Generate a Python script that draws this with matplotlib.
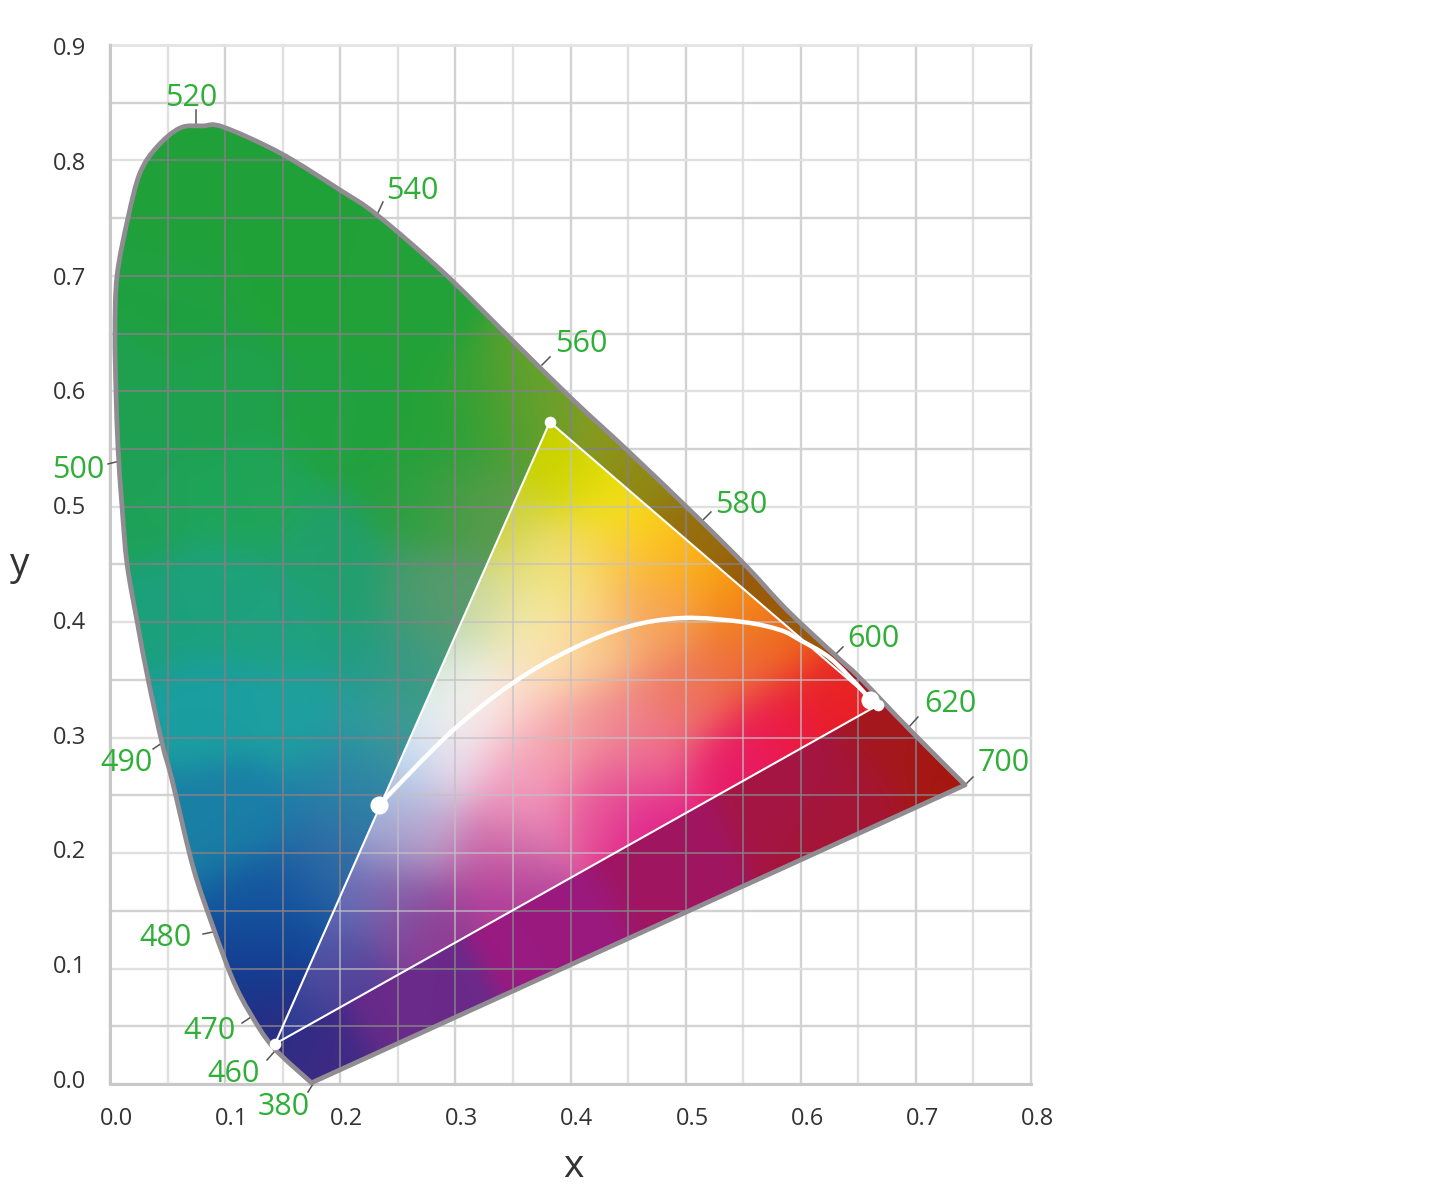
import matplotlib
matplotlib.use('Agg')
import matplotlib.pyplot as plt
from matplotlib.colors import to_rgb
from matplotlib.patches import PathPatch, Polygon
from matplotlib.path import Path
import numpy as np

plt.rcParams['font.family'] = ['Open Sans', 'DejaVu Sans']

# spectral locus, 380 nm round to 700 nm
locus_x = [.175, .1416, .1216, .1068, .0895, .0721, .0539, .0452, .033, .0235, .0148, .0104,
           .007, .0052, .0043, .0061, .0156, .026, .0408, .0608, .0808, .0982, .1477, .1998,
           .2319, .2892, .3448, .4022, .4491, .5125, .5533, .588, .6297, .6515, .6932, .7427]
locus_y = [.001, .032, .0615, .09, .136, .188, .2633, .2954, .351, .401, .4505, .5007,
           .55, .6, .65, .7, .75, .789, .8117, .8281, .8299, .829, .8065, .7744,
           .7528, .7034, .6488, .5925, .5492, .4886, .4479, .4106, .3716, .3517, .3084, .259]

# gamut triangle corners: red, green, blue
gamut_x = [.6672, .382, .1433]
gamut_y = [.3283, .5734, .0347]

# curve between the two larger dots
curve_x = [.2337, .2953, .35, .3996, .4491, .4977, .5498, .582, .5993, .6254, .6515, .6602]
curve_y = [.2417, .304, .3474, .376, .3959, .4037, .4002, .3933, .3846, .369, .343, .3327]
big_x = [.2337, .6602]
big_y = [.2417, .3327]

wave_labels = ['520', '540', '560', '580', '600', '620', '700', '500', '490', '480', '470', '460', '380']
label_x = [.0704, .2622, .4091, .5481, .6627, .7296, .7766, -.0278, .0139, .0486, .086, .1077, .1512]
label_y = [.8567, .7761, .6435, .5044, .3881, .3318, .2807, .5345, .2807, .1291, .0485, .0113, -.0173]
tick_x0 = [.0747, .2371, .3822, .522, .6367, .7018, .7496, -.0017, .0374, .0808, .1147, .1364, .172]
tick_y0 = [.8437, .764, .6298, .4955, .3786, .3179, .2659, .5371, .2902, .1299, .0528, .0208, -.0069]
tick_x1 = [.0747, .2319, .3752, .5142, .6297, .6932, .7427, .0087, .0452, .0895, .1225, .1433, .1763]
tick_y1 = [.8316, .7528, .6228, .4877, .3716, .3084, .259, .5397, .2954, .1317, .058, .0286, 0]

x_ticks = [0, .1, .2, .3, .4, .5, .6, .7, .8]
y_ticks = [0, .1, .2, .3, .4, .5, .6, .7, .8, .9]

# colours sampled outside the triangle
outer_colors = [
    (.078, .766, '#21a038'), (.252, .679, '#21a238'), (.295, .567, '#21a238'), (.269, .636, '#21a238'),
    (.15, .7, '#21a238'), (.06, .68, '#20a040'), (.2, .58, '#21a140'), (.1, .6, '#1fa04c'),
    (.313, .593, '#2aa235'), (.009, .593, '#1fa050'), (.122, .506, '#1fa558'), (.02, .5, '#1ea258'),
    (.191, .454, '#21a068'), (.165, .402, '#1fa184'), (.035, .402, '#1ba07c'), (.1, .42, '#1da27c'),
    (.078, .324, '#1a9ea0'), (.165, .315, '#1ea0a0'), (.122, .229, '#1a7fa8'), (.08, .22, '#1a80a4'),
    (.122, .159, '#14579f'), (.165, .159, '#124f9e'), (.13, .107, '#143d92'), (.139, .047, '#232f84'),
    (.324, .564, '#38a034'), (.367, .564, '#63a02c'), (.269, .564, '#21a238'),
    (.267, .506, '#22a040'), (.295, .506, '#4f9c45'), (.333, .506, '#5f9a50'),
    (.208, .419, '#1f9f70'), (.267, .419, '#4a9a70'), (.295, .419, '#5f9a6a'),
    (.237, .361, '#1c9c88'), (.267, .361, '#4a9a80'),
    (.223, .304, '#229ea0'), (.246, .304, '#4e9a90'),
    (.208, .261, '#1c82a8'), (.232, .261, '#3f87a6'), (.215, .235, '#2e7aa5'),
    (.185, .191, '#2a6aa5'), (.208, .194, '#3a6ea5'),
    (.339, .593, '#5a9e30'), (.365, .601, '#6ea32b'), (.417, .567, '#8c9a1f'), (.46, .532, '#8f8a14'),
    (.512, .48, '#976e0e'), (.565, .432, '#9a5a0a'), (.174, .021, '#3e2a85'),
    (.252, .073, '#6a2a8a'), (.382, .151, '#9a1a80'), (.469, .203, '#a01560'), (.599, .263, '#a51545'),
    (.686, .307, '#a5181c'), (.73, .263, '#a5180f'), (.643, .237, '#a51535'),
]

# colours sampled inside the triangle
inner_colors = [
    (.378, .567, '#c8d000'), (.391, .532, '#c6d400'), (.426, .523, '#e6dc05'), (.443, .489, '#f8e81e'),
    (.478, .48, '#fcc810'), (.512, .454, '#fbac12'), (.547, .419, '#f48a12'), (.591, .385, '#ee6a18'),
    (.643, .341, '#e82a20'), (.656, .331, '#e81c24'), (.339, .489, '#c8d040'), (.374, .454, '#e6dc70'),
    (.391, .428, '#f5ee90'), (.321, .419, '#c6d59a'), (.356, .393, '#f8eeb0'), (.295, .385, '#b8d8b0'),
    (.278, .35, '#cfe5d8'), (.313, .341, '#ffffff'), (.269, .315, '#d8f0f8'), (.252, .281, '#b5dcf5'),
    (.243, .255, '#b0c8e8'), (.235, .22, '#8da0d0'), (.208, .159, '#6070b8'), (.182, .107, '#4a5aa8'),
    (.156, .055, '#2a3a90'), (.304, .315, '#fbeef0'), (.295, .281, '#eed8e8'), (.269, .22, '#c8a0c8'),
    (.252, .159, '#8a5aa5'), (.208, .086, '#5a3a95'), (.278, .125, '#8c3a92'), (.339, .159, '#b03a98'),
    (.356, .281, '#f5a8c0'), (.356, .246, '#f090bc'), (.339, .203, '#cc6aa8'), (.426, .246, '#e85a9a'),
    (.469, .226, '#e0208a'), (.539, .269, '#e81a68'), (.582, .307, '#ec1a50'), (.617, .324, '#e81a30'),
    (.443, .315, '#f09090'), (.495, .333, '#ee7560'), (.547, .367, '#ee7040'), (.478, .402, '#f5a060'),
    (.426, .385, '#f9c080'), (.46, .445, '#fbb04a'), (.417, .454, '#fad46a'), (.391, .376, '#fde0b0'),
    (.347, .333, '#fcd8c8'), (.391, .298, '#f5a0a0'), (.469, .281, '#ee6a98'),
]


def blend_image(anchors, sigma=.028):
    gx, gy = np.meshgrid(np.linspace(0, .8, 400), np.linspace(0, .9, 450))
    px = np.array([a[0] for a in anchors])[:, None, None]
    py = np.array([a[1] for a in anchors])[:, None, None]
    cols = np.array([to_rgb(a[2]) for a in anchors])
    log_w = -((gx - px) ** 2 + (gy - py) ** 2) / (2 * sigma ** 2)
    w = np.exp(log_w - log_w.max(axis=0))
    w /= w.sum(axis=0)
    return np.einsum('kij,kc->ijc', w, cols)


def smooth_path(xs, ys, close=False):
    # runs a spline through the read points so the outline has no corners
    pts = np.column_stack([xs, ys])
    verts = [pts[0]]
    codes = [Path.MOVETO]
    n = len(pts)
    for i in range(n - 1):
        before = pts[max(i - 1, 0)]
        after = pts[min(i + 2, n - 1)]
        verts += [pts[i] + (pts[i + 1] - before) / 6, pts[i + 1] - (after - pts[i]) / 6, pts[i + 1]]
        codes += [Path.CURVE4] * 3
    if close:
        verts.append(pts[0])
        codes.append(Path.CLOSEPOLY)
    return Path(np.array(verts), codes)


fig = plt.figure(figsize=(14.4, 11.97), dpi=100)
ax = fig.add_axes([110 / 1440, 113 / 1197, 921 / 1440, 1039 / 1197])
ax.set_xlim(0, .8)
ax.set_ylim(0, .9)
ax.axis('off')

grid_x = np.arange(0, .81, .05)
grid_y = np.arange(0, .91, .05)

# grid on white
for i, v in enumerate(grid_x):
    ax.plot([v, v], [0, .9], color='#d2d2d2' if i % 2 == 0 else '#e0e0e0', lw=1.7, clip_on=False, zorder=1)
for i, v in enumerate(grid_y[:-1]):
    ax.plot([0, .8], [v, v], color='#d2d2d2' if i % 2 == 1 else '#e0e0e0', lw=1.7, clip_on=False, zorder=1)
ax.plot([0, .8], [.9, .9], color='#e4e4e4', lw=2, clip_on=False, zorder=1)
ax.plot([0, 0, .8], [.9, 0, 0], color='#c8c8c8', lw=2.2, clip_on=False, zorder=1.5)

locus_path = smooth_path(locus_x, locus_y, close=True)
shape = PathPatch(locus_path, fc='none', ec='none')
tri = Polygon(np.column_stack([gamut_x, gamut_y]), closed=True, fc='none', ec='none')
ax.add_patch(shape)
ax.add_patch(tri)

im = ax.imshow(blend_image(outer_colors), extent=(0, .8, 0, .9), origin='lower', aspect='auto',
               interpolation='bilinear', zorder=2)
im.set_clip_path(shape)
v1 = ax.vlines(grid_x, 0, .9, color='#857f86', lw=1.1, zorder=3)
h1 = ax.hlines(grid_y, 0, .8, color='#857f86', lw=1.1, zorder=3)
v1.set_clip_path(shape)
h1.set_clip_path(shape)

im2 = ax.imshow(blend_image(inner_colors), extent=(0, .8, 0, .9), origin='lower', aspect='auto',
                interpolation='bilinear', zorder=4)
im2.set_clip_path(tri)
v2 = ax.vlines(grid_x, 0, .9, color='#c4c0c4', lw=1.1, alpha=.85, zorder=5)
h2 = ax.hlines(grid_y, 0, .8, color='#c4c0c4', lw=1.1, alpha=.85, zorder=5)
v2.set_clip_path(tri)
h2.set_clip_path(tri)

ax.add_patch(PathPatch(locus_path, fc='none', ec='#918c92', lw=3.4, joinstyle='round', clip_on=False, zorder=6))
ax.add_patch(Polygon(np.column_stack([gamut_x, gamut_y]), closed=True, fc='none', ec='white', lw=1.5, zorder=7))
ax.add_patch(PathPatch(smooth_path(curve_x, curve_y), fc='none', ec='white', lw=3.2, capstyle='round', zorder=8))
ax.scatter(gamut_x, gamut_y, s=70, color='white', linewidths=0, zorder=9, clip_on=False)
ax.scatter(big_x, big_y, s=170, color='white', linewidths=0, zorder=9, clip_on=False)

# wavelength labels with their little ticks
for name, lx, ly, x0, y0, x1, y1 in zip(wave_labels, label_x, label_y, tick_x0, tick_y0, tick_x1, tick_y1):
    ax.text(lx, ly - .0026, name, color='#2fae38', fontsize=22, ha='center', va='center', clip_on=False, zorder=10)
    ax.plot([x0, x1], [y0, y1], color='#555555', lw=1.1, clip_on=False, zorder=5.5)

for v in x_ticks:
    ax.text(v + .0056, -.0305, f'{v:.1f}', color='#333333', fontsize=17, ha='center', va='center', clip_on=False)
for v in y_ticks:
    ax.text(-.0355, v * .994 + .0018, f'{v:.1f}', color='#333333', fontsize=17, ha='center', va='center', clip_on=False)

ax.text(.4027, -.0722, 'x', color='#333333', fontsize=28, ha='center', va='center', clip_on=False)
ax.text(-.0785, .4495, 'y', color='#333333', fontsize=28, ha='center', va='center', clip_on=False)

plt.savefig('out.png', dpi=100)
plt.close()
